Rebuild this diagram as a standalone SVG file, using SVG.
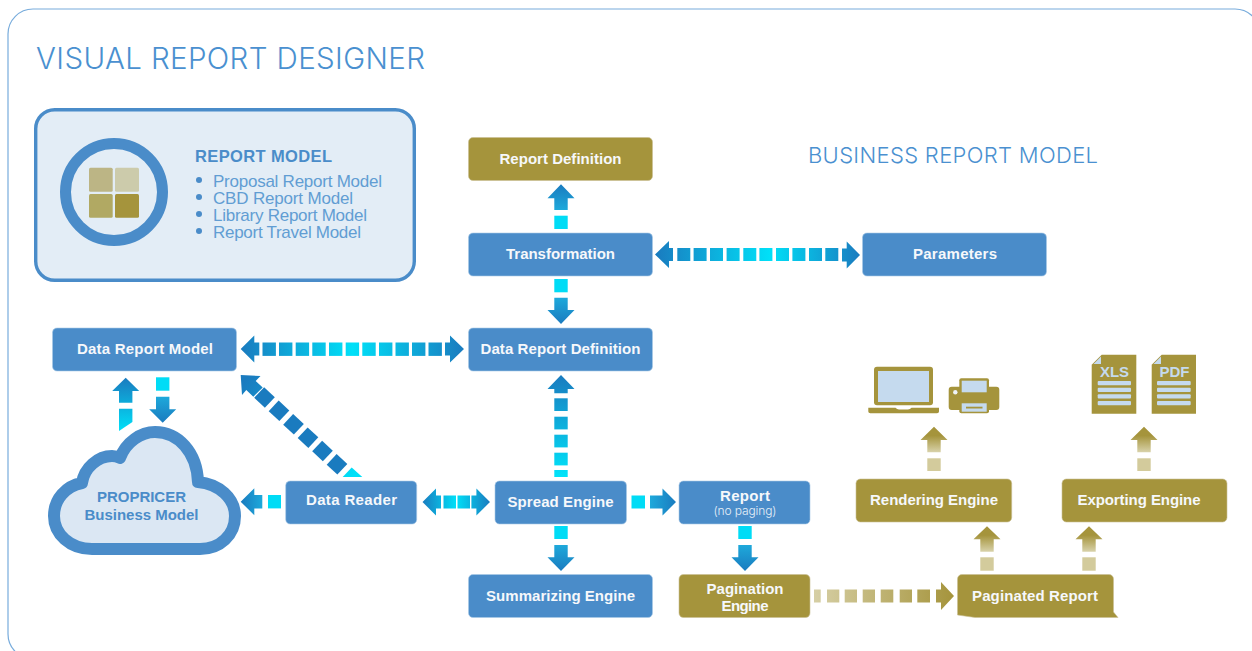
<svg xmlns="http://www.w3.org/2000/svg" width="1252" height="651" viewBox="0 0 1252 651">
<style>
.panel{fill:#fff;stroke:#78acdc;stroke-width:1.2}
.blue{fill:#4a8cc9;stroke:#a9c9e6;stroke-width:.6}
.gold{fill:#a5943c;stroke:#c9c096;stroke-width:.6}
text{font-family:"Liberation Sans",Arial,sans-serif}
.n{font-size:15px;font-weight:700;fill:#f6f8fb;text-anchor:middle}
.sub{font-family:Inter,"Liberation Sans",sans-serif;font-weight:300;font-size:12px;fill:#e6eff8;text-anchor:middle}
.h1{font-family:Inter,"Liberation Sans",sans-serif;font-weight:300;font-size:29.500px;fill:#4a90d0}
.h2{font-family:Inter,"Liberation Sans",sans-serif;font-weight:300;font-size:22px;fill:#4a90d0}
.h3{font-size:16.500px;font-weight:700;fill:#4a8cc9}
.li{font-size:17px;fill:#619dd3}
.cl{font-size:15px;font-weight:700;fill:#4a8cc9;text-anchor:middle}
.doc{font-size:15px;font-weight:700;fill:#c5daee;text-anchor:middle}
.sq{fill:#00dcf6}
.gq{fill:#d3cb9c}
.pale{fill:#c5daee}
.gicon{fill:#a5943c}
</style>
<defs>
<linearGradient id="bu" x1="0" y1="0" x2="0" y2="1"><stop offset="0" stop-color="#1a7bbf"/><stop offset="1" stop-color="#1ea9db"/></linearGradient>
<linearGradient id="bd" x1="0" y1="1" x2="0" y2="0"><stop offset="0" stop-color="#1a7bbf"/><stop offset="1" stop-color="#1ea9db"/></linearGradient>
<linearGradient id="bl" x1="0" y1="0" x2="1" y2="0"><stop offset="0" stop-color="#1a7bbf"/><stop offset="1" stop-color="#1ea9db"/></linearGradient>
<linearGradient id="br" x1="1" y1="0" x2="0" y2="0"><stop offset="0" stop-color="#1a7bbf"/><stop offset="1" stop-color="#1ea9db"/></linearGradient>
<linearGradient id="gu" x1="0" y1="0" x2="0" y2="1"><stop offset="0" stop-color="#a5943c"/><stop offset=".35" stop-color="#a5943c"/><stop offset="1" stop-color="#d8d2aa"/></linearGradient>
<linearGradient id="h1g" gradientUnits="userSpaceOnUse" x1="655" y1="0" x2="860" y2="0"><stop offset="0" stop-color="#1a7bbf"/><stop offset=".56" stop-color="#00e0f8"/><stop offset="1" stop-color="#1a7bbf"/></linearGradient>
<linearGradient id="h2g" gradientUnits="userSpaceOnUse" x1="241" y1="0" x2="464" y2="0"><stop offset="0" stop-color="#1a7bbf"/><stop offset=".5" stop-color="#00e0f8"/><stop offset="1" stop-color="#1a7bbf"/></linearGradient>
<linearGradient id="h3g" gradientUnits="userSpaceOnUse" x1="422" y1="0" x2="490" y2="0"><stop offset="0" stop-color="#1a7bbf"/><stop offset=".5" stop-color="#00e0f8"/><stop offset="1" stop-color="#1a7bbf"/></linearGradient>
<linearGradient id="v1" gradientUnits="userSpaceOnUse" x1="0" y1="375" x2="0" y2="477"><stop offset="0" stop-color="#1a7bbf"/><stop offset="1" stop-color="#00e4fa"/></linearGradient>
<linearGradient id="dg" gradientUnits="userSpaceOnUse" x1="245" y1="380" x2="355" y2="475"><stop offset="0" stop-color="#1a7bbf"/><stop offset="1" stop-color="#00e0f8"/></linearGradient>
<linearGradient id="up2" gradientUnits="userSpaceOnUse" x1="0" y1="378" x2="0" y2="431"><stop offset="0" stop-color="#1a7bbf"/><stop offset="1" stop-color="#00e0f8"/></linearGradient>
<linearGradient id="gh" gradientUnits="userSpaceOnUse" x1="814" y1="0" x2="954" y2="0"><stop offset="0" stop-color="#d6cfa5"/><stop offset="1" stop-color="#a5943c"/></linearGradient>
</defs>

<rect class="panel" x="8" y="9" width="1252" height="650" rx="25"/>

<text class="h1" x="36" y="68.500" textLength="389">VISUAL REPORT DESIGNER</text>
<text class="h2" x="808" y="163" textLength="290">BUSINESS REPORT MODEL</text>

<g id="report-model">
<rect x="35.700" y="109.700" width="378.600" height="170.600" rx="19" fill="#e3edf6" stroke="#4a8cc9" stroke-width="3.400"/>
<circle cx="114" cy="192" r="48.500" fill="none" stroke="#4a8cc9" stroke-width="11"/>
<rect x="89" y="167.700" width="23.700" height="24" rx="1.500" fill="#bcb585"/>
<rect x="115" y="167.700" width="24" height="24" rx="1.500" fill="#cccbab"/>
<rect x="89" y="194" width="23.700" height="23.700" rx="1.500" fill="#b1a963"/>
<rect x="115" y="194" width="24" height="23.700" rx="1.500" fill="#a5943c"/>
<text class="h3" x="195" y="161.500" textLength="137">REPORT MODEL</text>
<circle cx="199" cy="180" r="3" fill="#4a8cc9"/><circle cx="199" cy="197" r="3" fill="#4a8cc9"/><circle cx="199" cy="214" r="3" fill="#4a8cc9"/><circle cx="199" cy="231" r="3" fill="#4a8cc9"/>
<text class="li" x="213" y="186.500" textLength="169">Proposal Report Model</text>
<text class="li" x="213" y="203.500" textLength="140">CBD Report Model</text>
<text class="li" x="213" y="220.500" textLength="154">Library Report Model</text>
<text class="li" x="213" y="237.500" textLength="148">Report Travel Model</text>
</g>

<g id="connectors">
<g id="c-transform-def"><rect class="sq" x="554.300" y="215.700" width="13.400" height="13.300"/><polygon fill="url(#bu)" points="561,184.300 574.500,198.300 567.700,198.300 567.700,210 554.300,210 554.300,198.300 547.500,198.300"/></g>
<g id="c-transform-drd"><rect class="sq" x="554.300" y="279" width="13.400" height="13.300"/><polygon fill="url(#bd)" points="561,324 574.500,310 567.700,310 567.700,297.700 554.300,297.700 554.300,310 547.500,310"/></g>
<g id="c-transform-param" fill="url(#h1g)">
<polygon points="655,254.500 669,241 669,248 673,248 673,261 669,261 669,268"/>
<rect x="677.300" y="248" width="13" height="13"/><rect x="693.600" y="248" width="13" height="13"/><rect x="710" y="248" width="13" height="13"/><rect x="726.600" y="248" width="13" height="13"/><rect x="743.300" y="248" width="13" height="13"/><rect x="759.400" y="248" width="13" height="13"/><rect x="776" y="248" width="13" height="13"/><rect x="792.400" y="248" width="13" height="13"/><rect x="809" y="248" width="13" height="13"/><rect x="825.300" y="248" width="13" height="13"/>
<polygon points="860,255 846.700,241.500 846.700,248.500 842,248.500 842,261.500 846.700,261.500 846.700,268.500"/>
</g>
<g id="c-drm-drd" fill="url(#h2g)">
<polygon points="240.700,349 254.300,335.500 254.300,342.500 259.300,342.500 259.300,355.500 254.300,355.500 254.300,362.500"/>
<rect x="262.500" y="342.500" width="13.400" height="13.400"/><rect x="279" y="342.500" width="13.400" height="13.400"/><rect x="295.700" y="342.500" width="13.400" height="13.400"/><rect x="312.300" y="342.500" width="13.400" height="13.400"/><rect x="329" y="342.500" width="13.400" height="13.400"/><rect x="345.700" y="342.500" width="13.400" height="13.400"/><rect x="362.300" y="342.500" width="13.400" height="13.400"/><rect x="379" y="342.500" width="13.400" height="13.400"/><rect x="395.500" y="342.500" width="13.400" height="13.400"/><rect x="412" y="342.500" width="13.400" height="13.400"/><rect x="428.500" y="342.500" width="13.400" height="13.400"/>
<polygon points="464,349 450,335.500 450,342.500 445,342.500 445,355.500 450,355.500 450,362.500"/>
</g>
<g id="c-cloud-drm" fill="url(#up2)">
<polygon points="125.700,377.700 139.200,391 132.400,391 132.400,402.700 119,402.700 119,391 112.200,391"/>
<polygon points="119,408.700 132.400,408.700 132.400,422 119,431"/>
</g>
<g id="c-drm-cloud"><rect class="sq" x="156" y="377.300" width="13.400" height="13.400"/><polygon fill="url(#bd)" points="162.700,422.700 176.200,409.300 169.400,409.300 169.400,396.700 156,396.700 156,409.300 149.200,409.300"/></g>
<g id="c-reader-drm" fill="url(#dg)">
<polygon points="240.700,375 260.500,376 255.700,381 262.700,387.500 253.300,396.700 246.300,390 242,395"/>
<rect x="-7.300" y="-7.300" width="14.600" height="14.600" transform="translate(264.500 397.500) rotate(43)"/>
<rect x="-7.300" y="-7.300" width="14.600" height="14.600" transform="translate(279 410.800) rotate(43)"/>
<rect x="-7.300" y="-7.300" width="14.600" height="14.600" transform="translate(293.500 424.300) rotate(43)"/>
<rect x="-7.300" y="-7.300" width="14.600" height="14.600" transform="translate(308 437.700) rotate(43)"/>
<rect x="-7.300" y="-7.300" width="14.600" height="14.600" transform="translate(322.500 451) rotate(43)"/>
<rect x="-7.300" y="-7.300" width="14.600" height="14.600" transform="translate(337 464.300) rotate(43)"/>
<polygon points="342.700,477 351.700,467.500 362.300,477"/>
</g>
<g id="c-reader-cloud"><rect class="sq" x="268" y="495" width="13" height="13.400"/><polygon fill="url(#bl)" points="240.700,501.700 254.300,488.200 254.300,495 262.300,495 262.300,508.400 254.300,508.400 254.300,515.200"/></g>
<g id="c-reader-spread" fill="url(#h3g)">
<polygon points="422.500,502 436,488.500 436,495.500 441,495.500 441,508.500 436,508.500 436,515.500"/>
<rect x="443.500" y="495.500" width="12.500" height="13"/><rect x="457.500" y="495.500" width="12.500" height="13"/>
<polygon points="490,502 476.400,488.500 476.400,495.500 471.400,495.500 471.400,508.500 476.400,508.500 476.400,515.500"/>
</g>
<g id="c-spread-drd" fill="url(#v1)">
<polygon points="561,375 574.500,389 567.700,389 567.700,393.300 554.300,393.300 554.300,389 547.500,389"/>
<rect x="554.300" y="398.300" width="13.400" height="12.700"/><rect x="554.300" y="416.700" width="13.400" height="12.700"/><rect x="554.300" y="434.700" width="13.400" height="12.700"/><rect x="554.300" y="452.700" width="13.400" height="12.700"/><rect x="554.300" y="470" width="13.400" height="7"/>
</g>
<g id="c-spread-report"><rect class="sq" x="631.500" y="495.500" width="13.500" height="13"/><polygon fill="url(#br)" points="676,502 662.500,488.500 662.500,495.500 650,495.500 650,508.500 662.500,508.500 662.500,515.500"/></g>
<g id="c-spread-summ"><rect class="sq" x="554.300" y="526" width="13.400" height="13"/><polygon fill="url(#bd)" points="561,571 574.500,557.300 567.700,557.300 567.700,545 554.300,545 554.300,557.300 547.500,557.300"/></g>
<g id="c-report-pag"><rect class="sq" x="738.300" y="526" width="13.400" height="13"/><polygon fill="url(#bd)" points="745,571 758.500,557.300 751.700,557.300 751.700,545 738.300,545 738.300,557.300 731.500,557.300"/></g>
<g id="c-pag-paginated" fill="url(#gh)">
<rect x="814" y="589.500" width="6.700" height="13"/><rect x="827" y="589.500" width="12.300" height="13"/><rect x="844.700" y="589.500" width="12.300" height="13"/><rect x="862.700" y="589.500" width="12.300" height="13"/><rect x="880.700" y="589.500" width="12.600" height="13"/><rect x="899.700" y="589.500" width="12.300" height="13"/><rect x="917.300" y="589.500" width="12.700" height="13"/>
<polygon points="954,596 941,582 941,589.500 936,589.500 936,602.500 941,602.500 941,610"/>
</g>
<g id="c-pr-render"><rect class="gq" x="980.300" y="557.300" width="13.400" height="13.400"/><polygon fill="url(#gu)" points="987,526.300 1000.500,539.300 993.700,539.300 993.700,551.700 980.300,551.700 980.300,539.300 973.500,539.300"/></g>
<g id="c-pr-export"><rect class="gq" x="1082.300" y="557.300" width="13.400" height="13.400"/><polygon fill="url(#gu)" points="1089,526.300 1102.500,539.300 1095.700,539.300 1095.700,551.700 1082.300,551.700 1082.300,539.300 1075.500,539.300"/></g>
<g id="c-render-up"><rect class="gq" x="927.300" y="458.300" width="13.400" height="12.700"/><polygon fill="url(#gu)" points="934,426.700 947.500,440 940.700,440 940.700,452.300 927.300,452.300 927.300,440 920.500,440"/></g>
<g id="c-export-up"><rect class="gq" x="1137.300" y="458.300" width="13.400" height="12.700"/><polygon fill="url(#gu)" points="1144,426.700 1157.500,440 1150.700,440 1150.700,452.300 1137.300,452.300 1137.300,440 1130.500,440"/></g>
</g>

<g id="report-definition"><rect class="gold" x="468.500" y="137.500" width="184" height="43" rx="4.500"/><text class="n" x="560.500" y="163.500" textLength="122">Report Definition</text></g>
<g id="transformation"><rect class="blue" x="468.500" y="233" width="184" height="43" rx="4.500"/><text class="n" x="560.500" y="259" textLength="109">Transformation</text></g>
<g id="parameters"><rect class="blue" x="862.500" y="233" width="184" height="43" rx="4.500"/><text class="n" x="955" y="259" textLength="84">Parameters</text></g>
<g id="data-report-definition"><rect class="blue" x="468.500" y="328" width="184" height="43" rx="4.500"/><text class="n" x="560.500" y="354" textLength="160">Data Report Definition</text></g>
<g id="data-report-model"><rect class="blue" x="52.500" y="328" width="184" height="43" rx="4.500"/><text class="n" x="145" y="354" textLength="136">Data Report Model</text></g>
<g id="data-reader"><rect class="blue" x="285.700" y="481" width="131" height="43" rx="4.500"/><text class="n" x="351.500" y="505" textLength="91">Data Reader</text></g>
<g id="spread-engine"><rect class="blue" x="495" y="481" width="131.500" height="43" rx="4.500"/><text class="n" x="560.500" y="507" textLength="106">Spread Engine</text></g>
<g id="report"><rect class="blue" x="679" y="481" width="131" height="43" rx="4.500"/><text class="n" x="745" y="501" textLength="50">Report</text><text class="sub" x="745" y="515" textLength="63">(no paging)</text></g>
<g id="summarizing-engine"><rect class="blue" x="468.500" y="574.500" width="184" height="43" rx="4.500"/><text class="n" x="560.500" y="601" textLength="149">Summarizing Engine</text></g>
<g id="pagination-engine"><rect class="gold" x="679" y="574.500" width="131" height="43" rx="4.500"/><text class="n" x="745" y="593.500" textLength="77">Pagination</text><text class="n" x="745" y="610.500" textLength="47">Engine</text></g>
<g id="paginated-report"><path class="gold" d="M962 574.500H1109a4.500 4.500 0 0 1 4.500 4.500V612L1118 617.500H975L957.500 615V579a4.500 4.500 0 0 1 4.500-4.500Z"/><text class="n" x="1035" y="601" textLength="126">Paginated Report</text></g>
<g id="rendering-engine"><rect class="gold" x="856" y="479" width="155.700" height="43" rx="4.500"/><text class="n" x="934" y="505" textLength="128">Rendering Engine</text></g>
<g id="exporting-engine"><rect class="gold" x="1062" y="479" width="165" height="43" rx="4.500"/><text class="n" x="1139" y="505" textLength="123">Exporting Engine</text></g>

<g id="cloud">
<path d="M92 549C70 549 54 534 54 516C54 499 66 486 82 483C84 468 98 456 112 456C116 456 118 457 120 458C126 442 141 432 155 432C178 432 197 452 198 482C219 484 235 498 235 516C235 535 220 549 200 549Z" fill="#dbe7f3" stroke="#4a8cc9" stroke-width="12" stroke-linejoin="round"/>
<text class="cl" x="141.500" y="502" textLength="89">PROPRICER</text>
<text class="cl" x="141.500" y="519.500" textLength="114">Business Model</text>
</g>

<g id="laptop">
<rect class="gicon" x="874" y="366.700" width="59" height="38.600" rx="3"/>
<rect class="pale" x="878" y="371" width="51" height="31"/>
<path class="gicon" d="M868.300 407.700H895.500Q897 409.500 899 409.500H908Q910 409.500 911.500 407.700H939V411.500Q939 413.300 937 413.300H870.300Q868.300 413.300 868.300 411.500Z"/>
</g>
<g id="printer">
<rect class="gicon" x="948.700" y="386.700" width="50.600" height="23.300" rx="3"/>
<rect class="gicon" x="959.300" y="378.300" width="29.700" height="35" rx="2"/>
<rect class="pale" x="961.700" y="380.700" width="25" height="11.600"/>
<rect class="pale" x="961.700" y="403.300" width="25" height="8.400"/>
<rect class="gicon" x="966" y="406.700" width="16.500" height="1.800"/>
<circle cx="955.300" cy="392.300" r="2.200" fill="#eef3f8"/>
</g>
<g id="xls">
<path class="gicon" d="M1101.700 354.700H1136.300V413.700H1091.700V364.700Z"/>
<path class="pale" d="M1101 356.500V364H1093.500Z"/>
<text class="doc" x="1114.500" y="377">XLS</text>
<rect class="pale" x="1097.700" y="381" width="33.300" height="4.300" rx="1"/><rect class="pale" x="1097.700" y="387.700" width="33.300" height="4.300" rx="1"/><rect class="pale" x="1097.700" y="394.300" width="33.300" height="4.300" rx="1"/><rect class="pale" x="1097.700" y="401" width="33.300" height="4.300" rx="1"/>
</g>
<g id="pdf">
<path class="gicon" d="M1161.700 354.700H1196V413.700H1151.700V364.700Z"/>
<path class="pale" d="M1161 356.500V364H1153.500Z"/>
<text class="doc" x="1174.500" y="377">PDF</text>
<rect class="pale" x="1157" y="381" width="33.700" height="4.300" rx="1"/><rect class="pale" x="1157" y="387.700" width="33.700" height="4.300" rx="1"/><rect class="pale" x="1157" y="394.300" width="33.700" height="4.300" rx="1"/><rect class="pale" x="1157" y="401" width="33.700" height="4.300" rx="1"/>
</g>
</svg>
